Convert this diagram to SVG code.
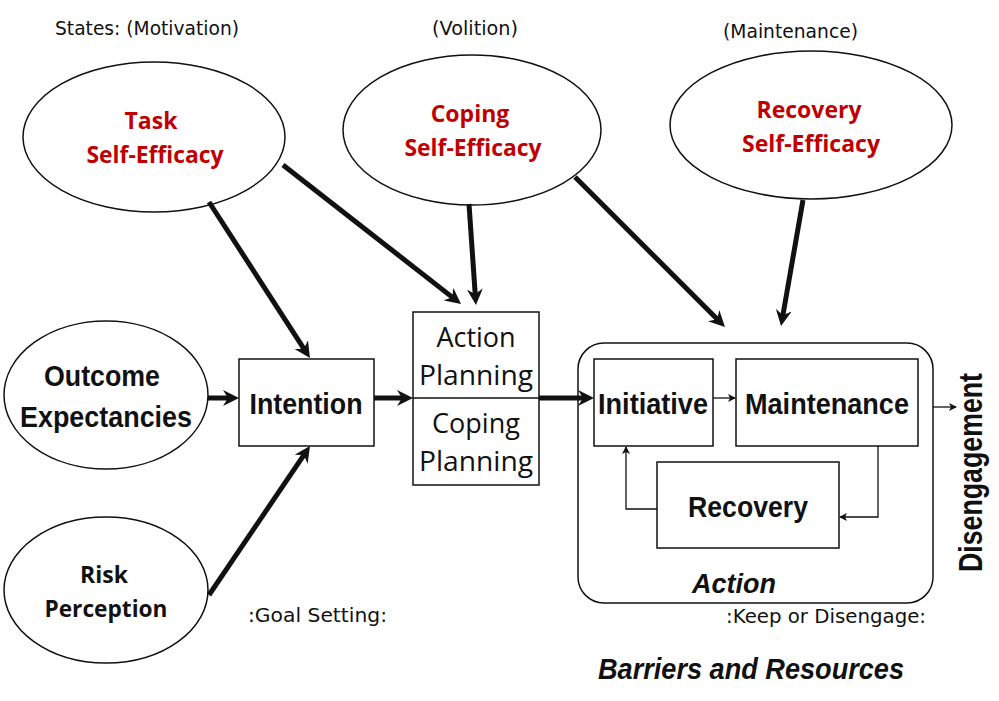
<svg xmlns="http://www.w3.org/2000/svg" width="999" height="701" viewBox="0 0 999 701">
<defs>
<marker id="ah" markerUnits="userSpaceOnUse" markerWidth="16" markerHeight="16" refX="8" refY="8" orient="auto" viewBox="0 0 16 16">
<path d="M0,0 L16,8 L0,16 L5,8 z" fill="#111"/>
</marker>
<marker id="as" markerUnits="userSpaceOnUse" markerWidth="8" markerHeight="8" refX="7" refY="4" orient="auto" viewBox="0 0 8 8">
<path d="M0,0 L8,4 L0,8 L2,4 z" fill="#111"/>
</marker>
</defs>
<style>
.sh{fill:#fff;stroke:#111;stroke-width:1.5}
.lab{font-family:"DejaVu Sans",sans-serif;font-size:19px;fill:#111}
.small{font-family:"DejaVu Sans",sans-serif;font-size:20px;fill:#111}
.red{font-family:"Open Sans","Noto Sans",sans-serif;font-weight:bold;font-size:23px;fill:#C00000;text-anchor:middle}
.bk{font-family:"Open Sans","Noto Sans",sans-serif;font-weight:bold;font-size:23px;fill:#111;text-anchor:middle}
.cn{font-family:"Liberation Sans Narrow","Liberation Sans",sans-serif;font-weight:bold;font-size:29px;fill:#111;text-anchor:middle}
.pl{font-family:"Open Sans","Noto Sans",sans-serif;font-size:27px;fill:#111;text-anchor:middle}
.thick{stroke:#111;stroke-width:5;fill:none;marker-end:url(#ah)}
.thin{stroke:#111;stroke-width:1.3;fill:none;marker-end:url(#as)}
</style>
<rect width="999" height="701" fill="#fff"/>
<g id="labels">
<text class="lab" x="55" y="35" textLength="184" lengthAdjust="spacingAndGlyphs">States: (Motivation)</text>
<text class="lab" x="432" y="35" textLength="86" lengthAdjust="spacingAndGlyphs">(Volition)</text>
<text class="lab" x="723" y="38" textLength="135" lengthAdjust="spacingAndGlyphs">(Maintenance)</text>
<text class="small" x="248" y="622" textLength="139" lengthAdjust="spacingAndGlyphs">:Goal Setting:</text>
<text class="small" x="726" y="623" textLength="200" lengthAdjust="spacingAndGlyphs">:Keep or Disengage:</text>
<text class="cn" x="751" y="679" style="font-style:italic" textLength="306" lengthAdjust="spacingAndGlyphs">Barriers and Resources</text>
<text class="cn" style="text-anchor:start;font-size:33px" transform="translate(982,572) rotate(-90)" textLength="199" lengthAdjust="spacingAndGlyphs">Disengagement</text>
</g>
<g id="task-se">
<ellipse class="sh" cx="154" cy="137" rx="131" ry="75"/>
<text class="red" x="151" y="129">Task</text>
<text class="red" x="155" y="163" textLength="137" lengthAdjust="spacingAndGlyphs">Self-Efficacy</text>
</g>
<g id="coping-se">
<ellipse class="sh" cx="472" cy="130" rx="129" ry="75"/>
<text class="red" x="470" y="122">Coping</text>
<text class="red" x="473" y="156" textLength="137" lengthAdjust="spacingAndGlyphs">Self-Efficacy</text>
</g>
<g id="recovery-se">
<ellipse class="sh" cx="811" cy="125" rx="141" ry="74"/>
<text class="red" x="809" y="118">Recovery</text>
<text class="red" x="811" y="152" textLength="138" lengthAdjust="spacingAndGlyphs">Self-Efficacy</text>
</g>
<g id="outcome">
<ellipse class="sh" cx="106" cy="395" rx="102" ry="74"/>
<text class="cn" x="102" y="386" textLength="116" lengthAdjust="spacingAndGlyphs">Outcome</text>
<text class="cn" x="106" y="427" textLength="172" lengthAdjust="spacingAndGlyphs">Expectancies</text>
</g>
<g id="risk">
<ellipse class="sh" cx="106" cy="590" rx="102" ry="73"/>
<text class="bk" x="104" y="583">Risk</text>
<text class="bk" x="106" y="617" textLength="123" lengthAdjust="spacingAndGlyphs">Perception</text>
</g>
<g id="intention">
<rect class="sh" x="239" y="359" width="135" height="87"/>
<text class="cn" x="306" y="414" textLength="113" lengthAdjust="spacingAndGlyphs">Intention</text>
</g>
<g id="planning">
<rect class="sh" x="413" y="312" width="126" height="173"/>
<line x1="413" y1="398" x2="539" y2="398" stroke="#111" stroke-width="1.5"/>
<text class="pl" x="476" y="347">Action</text>
<text class="pl" x="476" y="385" textLength="114" lengthAdjust="spacingAndGlyphs">Planning</text>
<text class="pl" x="476" y="433">Coping</text>
<text class="pl" x="476" y="471" textLength="114" lengthAdjust="spacingAndGlyphs">Planning</text>
</g>
<g id="action">
<rect class="sh" x="578" y="343" width="355" height="260" rx="26"/>
<text class="cn" x="734" y="593" style="font-style:italic;font-size:28px" textLength="84" lengthAdjust="spacingAndGlyphs">Action</text>
</g>
<g id="initiative">
<rect class="sh" x="594" y="359" width="119" height="87"/>
<text class="cn" x="653" y="414" textLength="110" lengthAdjust="spacingAndGlyphs">Initiative</text>
</g>
<g id="maintenance">
<rect class="sh" x="736" y="359" width="182" height="87"/>
<text class="cn" x="827" y="414" textLength="164" lengthAdjust="spacingAndGlyphs">Maintenance</text>
</g>
<g id="recovery">
<rect class="sh" x="657" y="462" width="182" height="86"/>
<text class="cn" x="748" y="517" textLength="120" lengthAdjust="spacingAndGlyphs">Recovery</text>
</g>
<g id="connectors">
<line class="thick" x1="208" y1="398" x2="231" y2="398"/>
<line class="thick" x1="374" y1="398" x2="405" y2="398"/>
<line class="thick" x1="539" y1="398" x2="586" y2="398"/>
<line class="thick" x1="209" y1="202" x2="305.6" y2="351.3"/>
<line class="thick" x1="209" y1="595" x2="305.5" y2="452.6"/>
<line class="thick" x1="283" y1="165" x2="454.7" y2="299.1"/>
<line class="thick" x1="469" y1="204" x2="475.4" y2="297"/>
<line class="thick" x1="575" y1="177" x2="719.3" y2="321.3"/>
<line class="thick" x1="803" y1="200" x2="782.4" y2="318.1"/>
<line class="thin" x1="713" y1="398" x2="735" y2="398"/>
<polyline class="thin" points="878,446 878,517 840,517"/>
<polyline class="thin" points="657,509 626,509 626,447"/>
<line class="thin" x1="933" y1="407" x2="956" y2="407"/>
</g>
</svg>
